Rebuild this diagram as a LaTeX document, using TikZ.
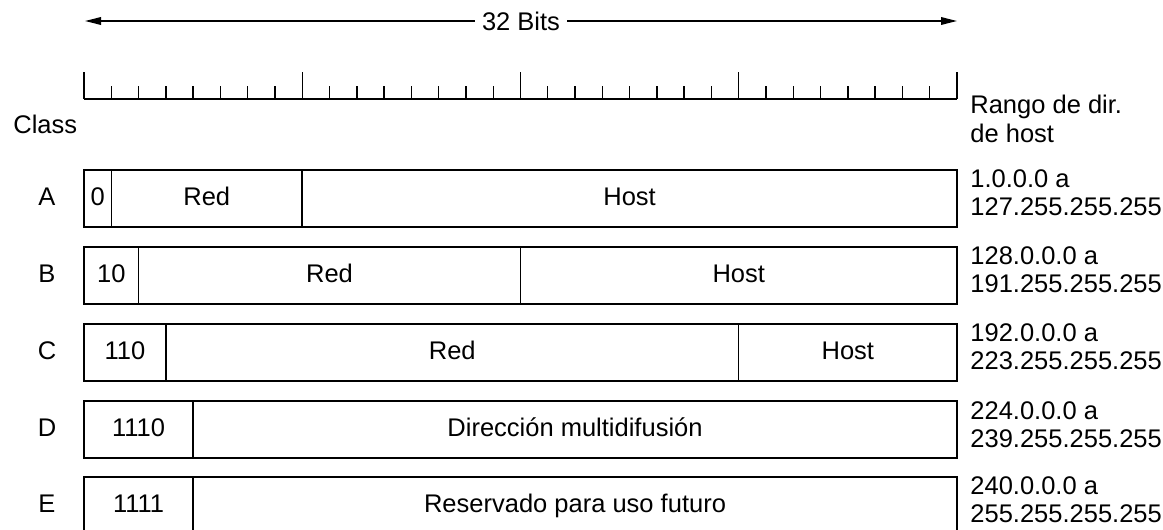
\documentclass[tikz,border=0pt]{standalone}
\usepackage{fontspec}
\setmainfont{Liberation Sans}
\usetikzlibrary{arrows.meta,positioning}
\tikzset{
  field/.style={draw, line width=0.75pt, outer sep=0pt, inner sep=0pt,
    minimum width=#1*13.64pt, minimum height=28.5pt,
    text height=9pt, text depth=2.5pt},
  cls/.style={inner sep=0pt, text height=9pt, text depth=2.5pt},
  iprange/.style={anchor=north west, inner sep=0pt, align=left},
  rulertick/.style={line width=0.7pt},
  >={Triangle[length=8pt,width=3.8pt]},
  font=\fontsize{12.75}{14.1}\selectfont}

\begin{document}
\begin{tikzpicture}[x=0.5pt,y=-0.5pt]
        \useasboundingbox (0,0) rectangle (1163,530);

        % width arrow
        \node (bits) at (521,21) {32 Bits};
        \coordinate (bl) at (85,21);
        \coordinate (br) at (957,21);
        \draw[->, line width=0.75pt] (bits) -- (bl);
        \draw[->, line width=0.75pt] (bits) -- (br);

        % bit ruler
        \draw[rulertick] (84,99) -- (957,99);
        \foreach \k in {0,...,4}
            \draw[rulertick] (84+\k*218.24,72) -- (84+\k*218.24,99);
        \foreach \k in {0,...,3}
            \foreach \j in {1,...,7}
                \draw[rulertick] (84+\k*218.24+\j*27.28,86) -- (84+\k*218.24+\j*27.28,99);

        \node[anchor=base west, inner sep=0pt] (class) at (13,133) {Class};
        \node[iprange] (rango) at (970,95) {Rango de dir.\\de host};

        % class A
        \node[cls] (A) at (47,198.5) {A};
        \node[field=1, anchor=west] (a1) at (84,198.5) {0};
        \node[field=7, right=0pt of a1] (a2) {Red};
        \node[field=24, right=0pt of a2] (a3) {Host};
        \node[iprange] (ra) at (970,169) {1.0.0.0 a\\127.255.255.255};

        % class B
        \node[cls] (B) at (47,275.5) {B};
        \node[field=2, anchor=west] (b1) at (84,275.5) {10};
        \node[field=14, right=0pt of b1] (b2) {Red};
        \node[field=16, right=0pt of b2] (b3) {Host};
        \node[iprange] (rb) at (970,246) {128.0.0.0 a\\191.255.255.255};

        % class C
        \node[cls] (C) at (47,352.5) {C};
        \node[field=3, anchor=west] (c1) at (84,352.5) {110};
        \node[field=21, right=0pt of c1] (c2) {Red};
        \node[field=8, right=0pt of c2] (c3) {Host};
        \node[iprange] (rc) at (970,323) {192.0.0.0 a\\223.255.255.255};

        % class D
        \node[cls] (D) at (47,429.5) {D};
        \node[field=4, anchor=west] (d1) at (84,429.5) {1110};
        \node[field=28, right=0pt of d1] (d2) {Dirección multidifusión};
        \node[iprange] (rd) at (970,401) {224.0.0.0 a\\239.255.255.255};

        % class E
        \node[cls] (E) at (47,505.5) {E};
        \node[field=4, anchor=west] (e1) at (84,505.5) {1111};
        \node[field=28, right=0pt of e1] (e2) {Reservado para uso futuro};
        \node[iprange] (re) at (970,476) {240.0.0.0 a\\255.255.255.255};
\end{tikzpicture}
\end{document}
